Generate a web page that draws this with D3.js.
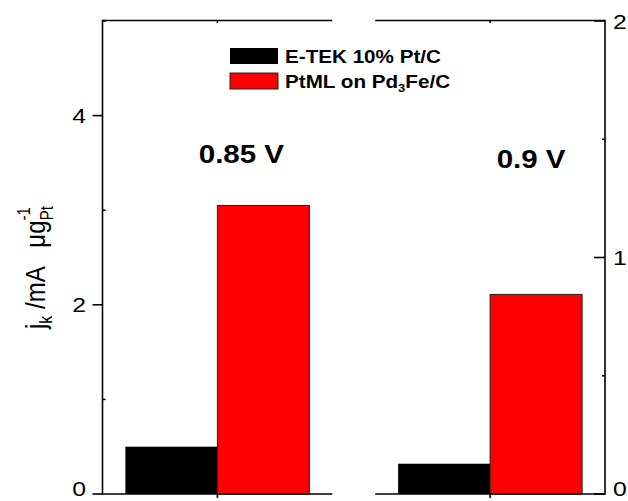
<!DOCTYPE html>
<html>
<head>
<meta charset="utf-8">
<script src="https://cdn.jsdelivr.net/npm/d3@7"></script>
<style>
  html, body { margin: 0; padding: 0; background: #fff; }
  svg { display: block; }
  text { font-family: Arial, "Liberation Sans", sans-serif; fill: #000; }
</style>
</head>
<body>
<svg id="chart" width="628" height="501"></svg>
<script>
// ---------------- data ----------------
const categories = ["0.85 V", "0.9 V"];
const seriesNames = ["E-TEK 10% Pt/C", "PtML on Pd3Fe/C"];
const etekValues = [0.50, 0.128];
const ptmlValues = [3.05, 0.844];
const seriesColors = ["#000000", "#ff0000"];
const leftTicks = [0, 2, 4];
const leftMinorTicks = [1, 3, 5];
const rightTicks = [0, 1, 2];
const rightMinorTicks = [0.5, 1.5];

// ---------------- layout ----------------
const SX = 1.18; // horizontal stretch of the original figure's text
const plotLeft = 102.5, plotRight = 605, plotTop = 20.5, plotBottom = 494;

const svg = d3.select("#chart");

const xOuter = d3.scaleBand().domain(categories)
  .range([plotLeft, plotRight]).paddingInner(43 / 273);
const yLeft = d3.scaleLinear().domain([0, 5]).range([plotBottom, 21]);
const yRight = d3.scaleLinear().domain([0, 2]).range([plotBottom, 21]);
const yScales = [yLeft, yRight];

function stretched(sel, x, y) {
  return sel.attr("transform", `translate(${x},${y}) scale(${SX},1)`);
}

// ---------------- bars ----------------
const values = [etekValues, ptmlValues];
categories.forEach((cat, ci) => {
  const center = xOuter(cat) + xOuter.bandwidth() / 2;
  const xInner = d3.scaleBand().domain(seriesNames).range([center - 92, center + 92]);
  const y = yScales[ci];
  seriesNames.forEach((s, si) => {
    const v = values[si][ci];
    svg.append("rect")
      .attr("x", xInner(s))
      .attr("y", y(v))
      .attr("width", xInner.bandwidth())
      .attr("height", y(0) - y(v))
      .attr("fill", seriesColors[si])
      .attr("stroke", si === 0 ? "none" : "#222")
      .attr("stroke-width", 1);
  });
});

// ---------------- frame (broken x axes) ----------------
const axisG = svg.append("g").attr("stroke", "#000").attr("stroke-width", 1.6).attr("fill", "none");
categories.forEach(cat => {
  const x0 = xOuter(cat), x1 = x0 + xOuter.bandwidth();
  axisG.append("line").attr("x1", x0).attr("x2", x1).attr("y1", plotTop).attr("y2", plotTop);
  axisG.append("line").attr("x1", x0).attr("x2", x1).attr("y1", plotBottom).attr("y2", plotBottom);
  const c = x0 + xOuter.bandwidth() / 2;
  axisG.append("line").attr("x1", c).attr("x2", c).attr("y1", plotTop).attr("y2", plotTop + 2.5);
  axisG.append("line").attr("x1", c).attr("x2", c).attr("y1", plotBottom).attr("y2", plotBottom + 4);
});
// left axis
axisG.append("line").attr("x1", plotLeft).attr("x2", plotLeft).attr("y1", plotTop - 0.8).attr("y2", plotBottom + 0.8);
leftTicks.forEach(t => {
  axisG.append("line").attr("x1", plotLeft - 10).attr("x2", plotLeft)
    .attr("y1", yLeft(t)).attr("y2", yLeft(t));
});
leftMinorTicks.forEach(t => {
  axisG.append("line").attr("x1", plotLeft).attr("x2", plotLeft + 3)
    .attr("y1", yLeft(t)).attr("y2", yLeft(t));
});
// right axis
axisG.append("line").attr("x1", plotRight).attr("x2", plotRight).attr("y1", plotTop - 0.8).attr("y2", plotBottom + 0.8);
rightTicks.forEach(t => {
  axisG.append("line").attr("x1", plotRight - 11).attr("x2", plotRight)
    .attr("y1", yRight(t)).attr("y2", yRight(t));
});
rightMinorTicks.forEach(t => {
  axisG.append("line").attr("x1", plotRight - 3).attr("x2", plotRight)
    .attr("y1", yRight(t)).attr("y2", yRight(t));
});

// ---------------- tick labels ----------------
leftTicks.forEach(t => {
  stretched(svg.append("text"), 86, Math.min(yLeft(t) + 7.5, 496))
    .attr("text-anchor", "end").attr("font-size", 21).text(t);
});
rightTicks.forEach(t => {
  stretched(svg.append("text"), 613, Math.min(yRight(t) + 7.5, 496))
    .attr("text-anchor", "start").attr("font-size", 21).text(t);
});

// ---------------- category annotations ----------------
const annotOffsets = [{dx: 24, y: 163}, {dx: 41, y: 168}];
categories.forEach((cat, ci) => {
  const c = xOuter(cat) + xOuter.bandwidth() / 2;
  stretched(svg.append("text"), c + annotOffsets[ci].dx, annotOffsets[ci].y)
    .attr("text-anchor", "middle").attr("font-size", 25).attr("font-weight", "bold").text(cat);
});

// ---------------- legend ----------------
const legendX = 230, legendY = [48, 73];
seriesNames.forEach((s, si) => {
  svg.append("rect")
    .attr("x", legendX).attr("y", legendY[si])
    .attr("width", 48).attr("height", 16)
    .attr("fill", seriesColors[si])
    .attr("stroke", si === 0 ? "none" : "#222").attr("stroke-width", 1);
  const t = stretched(svg.append("text"), 285, legendY[si] + 15)
    .attr("font-size", 17.5).attr("font-weight", "bold");
  if (si === 1) {
    t.append("tspan").text("PtML on Pd");
    t.append("tspan").attr("font-size", 11).attr("dy", 4).text("3");
    t.append("tspan").attr("dy", -4).text("Fe/C");
  } else {
    t.text(s);
  }
});

// ---------------- y-axis title ----------------
const yt = svg.append("text")
  .attr("transform", `translate(45,329) scale(${SX},1) rotate(-90)`)
  .attr("font-size", 24);
yt.append("tspan").text("j");
yt.append("tspan").attr("font-size", 16).attr("dy", 6).text("k");
yt.append("tspan").attr("dy", -6).text("\u00a0/mA \u00a0\u00a0\u03bcg");
yt.append("tspan").attr("font-size", 15).attr("dy", -13).text("-1");
yt.append("tspan").attr("font-size", 15).attr("dx", -13).attr("dy", 20).text("Pt");
</script>
</body>
</html>
